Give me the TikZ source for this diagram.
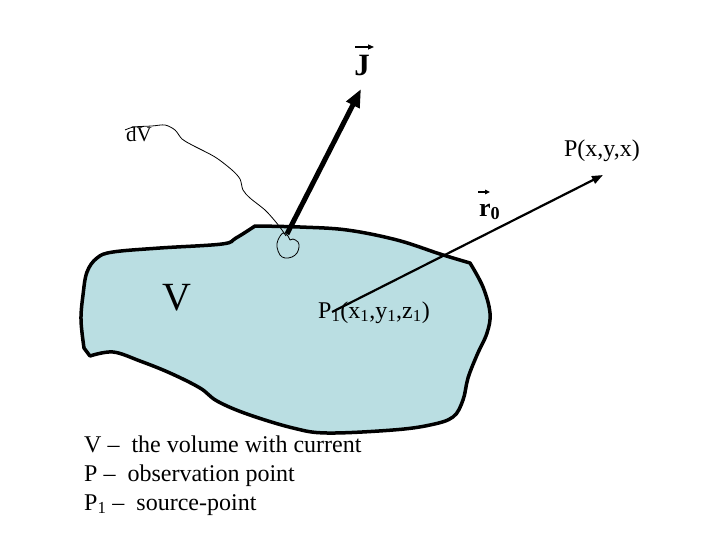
\documentclass[tikz,border=0pt]{standalone}
\usepackage{fontspec}
\setmainfont{Liberation Serif}
\usetikzlibrary{arrows.meta}
\definecolor{vfill}{RGB}{186,222,226}
\begin{document}
\begin{tikzpicture}[x=1pt,y=-1pt,
  lbl/.style={inner sep=0pt, font=\fontsize{24}{28}\selectfont},
  leg/.style={inner sep=0pt, anchor=base west, font=\fontsize{24}{28}\selectfont},
  blob/.style={draw=black, line width=3.5pt, fill=vfill, line join=round},
  thinline/.style={line width=0.8pt, line join=round},
  jarrow/.style={line width=5pt, -{Triangle[length=18pt,width=14pt]}},
  rarrow/.style={line width=2.2pt, -{Triangle[length=11pt,width=8pt]}}]
\useasboundingbox (0,0) rectangle (720,540);

% volume V
\filldraw[blob] plot[smooth, tension=0.6] coordinates {(255,226) (300,227) (347,230) (397,240) (440,254) (470,263)}
  -- plot[smooth, tension=0.6] coordinates {(470,263) (483,287) (490,313) (487,333) (477,355) (468,378) (463,400) (453,417) (430,425) (393,430) (327,433) (293,428) (247,414) (217,401) (200,388) (170,373) (140,361) (113,352) (90,356)}
  -- (84,348)
  -- plot[smooth, tension=0.6] coordinates {(84,348) (81,320) (83,295) (87,272) (97,258) (113,252) (160,248) (222,244) (236,238) (255,226)} -- cycle;

% small volume element dV
\draw[thinline] plot[smooth cycle, tension=0.6] coordinates {(283,233) (278,240) (277,247) (280,255) (285,258) (292,257) (297,253) (299,247) (298,242) (293,239) (290,240) (288,236)};

% labels
\node[lbl, font=\fontsize{21}{24}\selectfont] (dV) at (139,134) {dV};
\node[lbl] (Plab) at (602,151) {P(x,y,x)};
\node[lbl, font=\fontsize{40}{44}\selectfont] (Vlab) at (177,298) {V};
\node[lbl, anchor=base west] (P1lab) at (318,318) {P\textsubscript{1}(x\textsubscript{1},y\textsubscript{1},z\textsubscript{1})};
\node[lbl, font=\fontsize{31}{34}\bfseries\selectfont] (Jlab) at (362,66) {J};
\node[lbl, font=\fontsize{26}{30}\bfseries\selectfont, anchor=base west] (r0lab) at (479,216) {r\textsubscript{0}};

% vector arrows over J and r
\coordinate (ja) at (355,47);
\coordinate (jb) at (374,47);
\draw[line width=1.2pt, -{Triangle[length=6pt,width=5pt]}] (ja) -- (jb);
\coordinate (ra) at (478,192);
\coordinate (rb) at (490,192);
\draw[line width=1.2pt, -{Triangle[length=5pt,width=4.5pt]}] (ra) -- (rb);

% connector from dV label to element
\coordinate (dvs) at (125,130);
\draw[thinline] plot[smooth, tension=0.5] coordinates {(dvs) (134,127) (152,126) (165,125) (175,130) (182,139) (192,145) (215,157) (232,170) (240,179) (243,190) (250,198) (265,210) (275,221) (282,230) (286,236)};

% current density arrow J
\coordinate (src) at (287,234);
\coordinate (jtip) at (361,89);
\draw[jarrow] (src) -- (jtip);

% position vector r0
\coordinate (p1) at (332,312);
\coordinate (pp) at (603,175);
\draw[rarrow] (p1) -- (pp);

% legend
\node[leg] (leg1) at (84,452) {V --\hspace{0.5em}the volume with current};
\node[leg] (leg2) at (84,481) {P\hspace{0.25em}--\hspace{0.5em}observation point};
\node[leg] (leg3) at (84,510) {P\textsubscript{1} --\hspace{0.5em}source-point};
\end{tikzpicture}
\end{document}
